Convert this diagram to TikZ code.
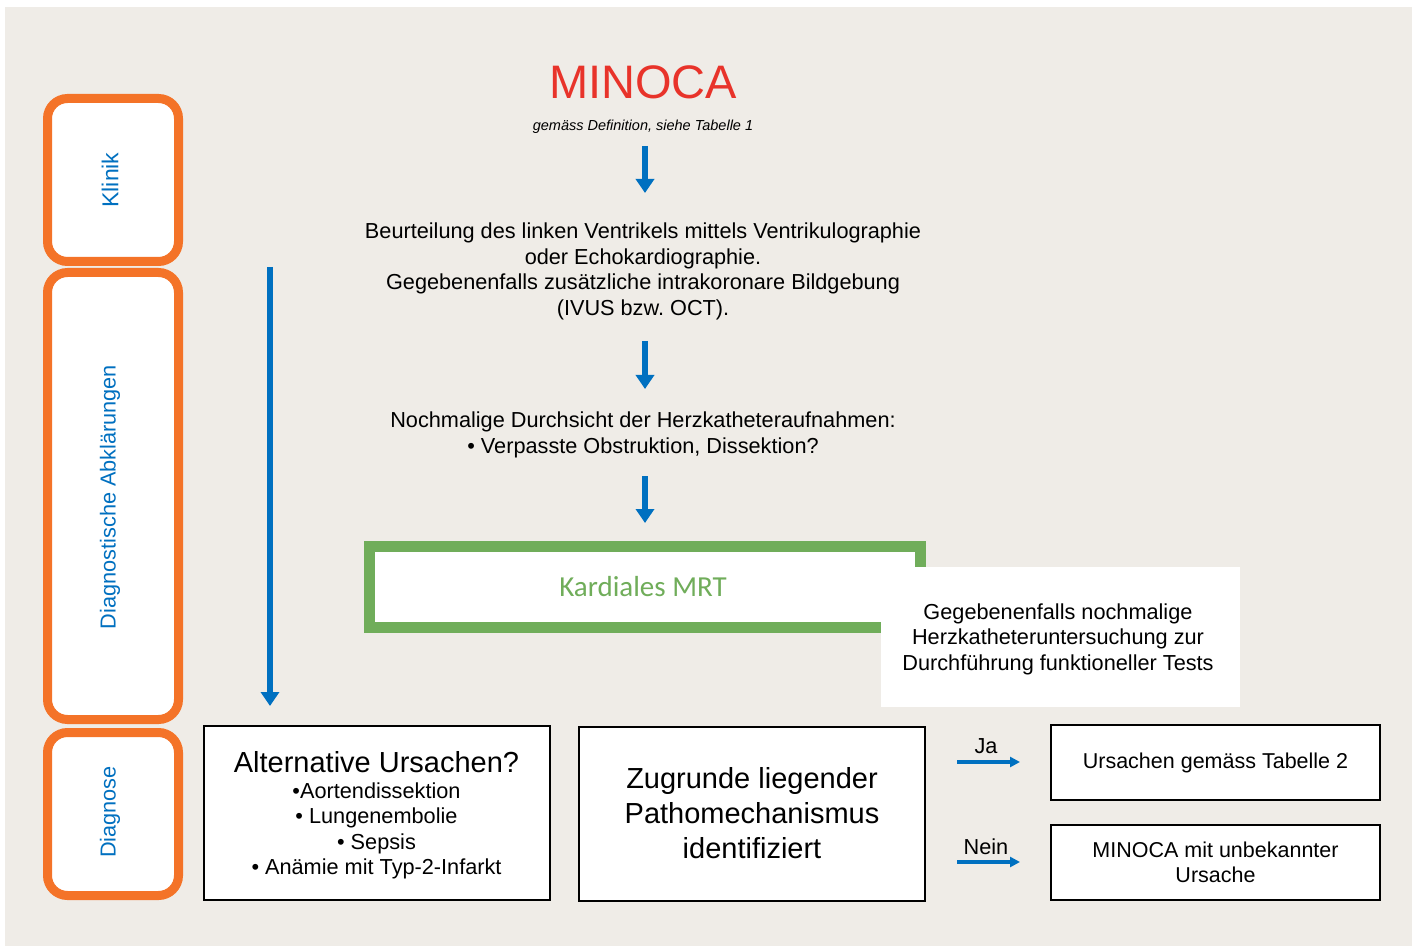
\documentclass[tikz,border=0pt]{standalone}
\usepackage{fontspec}
\setmainfont{Liberation Sans}
\newfontfamily\calibri{Carlito}
\usetikzlibrary{arrows.meta}
\frenchspacing
\definecolor{bg}{HTML}{EFECE7}
\definecolor{org}{HTML}{F47328}
\definecolor{blu}{HTML}{0070C0}
\definecolor{rd}{HTML}{E8332A}
\definecolor{grn}{HTML}{70AD5A}
\tikzset{
  phase/.style={draw=org, line width=9pt, fill=white, rounded corners=20pt},
  phasetxt/.style={rotate=90, text=blu, font=\fontsize{21.7}{24}\selectfont},
  bigarrow/.style={draw=blu, line width=6pt, -{Triangle[width=18pt,length=14pt]}},
  smallarrow/.style={draw=blu, line width=4pt, -{Triangle[width=10pt,length=10pt]}},
  blackbox/.style={draw=black, line width=2pt, fill=white, align=center, inner sep=0pt},
  txt/.style={align=center, font=\frenchspacing\fontsize{21.7}{25.6}\selectfont},
}
\begin{document}
\begin{tikzpicture}[x=1pt,y=-1pt]
\useasboundingbox (0,0) rectangle (1414,949);
\fill[bg] (5,7) rectangle (1412,946);
% phase boxes
\draw[phase] (47.5,98.5) rectangle (178.5,261.5);
\draw[phase] (47.5,272.5) rectangle (178.5,719.5);
\draw[phase] (47.5,732.5) rectangle (178.5,895.5);
\node[phasetxt, font=\fontsize{23}{24}\selectfont] (klinik) at (110,180) {Klinik};
\node[phasetxt] (diag) at (110,497) {Diagnostische Abklärungen};
\node[phasetxt] (dgn) at (110,812) {Diagnose};
% title
\node[text=rd, font=\fontsize{47}{50}\selectfont] (minoca) at (643,82) {MINOCA};
\node[font=\itshape\fontsize{14.5}{16}\selectfont] (sub) at (643,126.5) {gemäss Definition, siehe Tabelle 1};
\node[txt] (beurt) at (643,271.5) {Beurteilung des linken Ventrikels mittels Ventrikulographie\\oder Echokardiographie.\\Gegebenenfalls zusätzliche intrakoronare Bildgebung\\(IVUS bzw. OCT).};
\node[txt] (noch) at (643,435) {Nochmalige Durchsicht der Herzkatheteraufnahmen:\\• Verpasste Obstruktion, Dissektion?};
\coordinate (a1s) at (645,146); \coordinate (a1e) at (645,193);
\coordinate (a2s) at (645,341); \coordinate (a2e) at (645,389);
\coordinate (a3s) at (645,476); \coordinate (a3e) at (645,523);
\draw[bigarrow] (a1s) -- (a1e);
\draw[bigarrow] (a2s) -- (a2e);
\draw[bigarrow] (a3s) -- (a3e);
% MRT box
\draw[draw=grn, line width=11pt, fill=white] (369.5,546.5) rectangle (920.5,627.5);
\node[text=grn, font=\calibri\fontsize{29}{30}\selectfont] (mrt) at (643,587) {Kardiales MRT};
\fill[white] (881,567) rectangle (1240,707);
\node[txt] (herz) at (1058,639) {Gegebenenfalls nochmalige\\Herzkatheteruntersuchung zur\\Durchführung funktioneller Tests};
% long arrow
\coordinate (ls) at (270,267); \coordinate (le) at (270,706);
\draw[bigarrow] (ls) -- (le);
% bottom boxes
\node[blackbox, minimum width=346pt, minimum height=174pt] (alt) at (376.5,812.5) {};
\node[txt, anchor=north] at (376.5,748) {{\fontsize{29}{30}\selectfont Alternative Ursachen?}\\[0pt]•Aortendissektion\\• Lungenembolie\\• Sepsis\\• Anämie mit Typ-2-Infarkt};
\node[blackbox, minimum width=346pt, minimum height=174pt, font=\fontsize{29}{35}\selectfont] (zug) at (752,813.5) {Zugrunde liegender\\Pathomechanismus\\identifiziert};
\node[blackbox, minimum width=329pt, minimum height=75pt, font=\fontsize{21.5}{25.6}\selectfont] (tab2) at (1215.5,762.5) {Ursachen gemäss Tabelle 2};
\node[blackbox, minimum width=329pt, minimum height=75pt, font=\fontsize{21.5}{25.6}\selectfont] (unb) at (1215.5,862.5) {MINOCA mit unbekannter\\Ursache};
\coordinate (jas) at (957,762); \coordinate (jae) at (1020,762);
\coordinate (neins) at (957,862); \coordinate (neine) at (1020,862);
\draw[smallarrow] (jas) -- (jae);
\draw[smallarrow] (neins) -- (neine);
\node[font=\fontsize{21.7}{24}\selectfont] (ja) at (986,746) {Ja};
\node[font=\fontsize{21.7}{24}\selectfont] (nein) at (986,847) {Nein};
\end{tikzpicture}
\end{document}
